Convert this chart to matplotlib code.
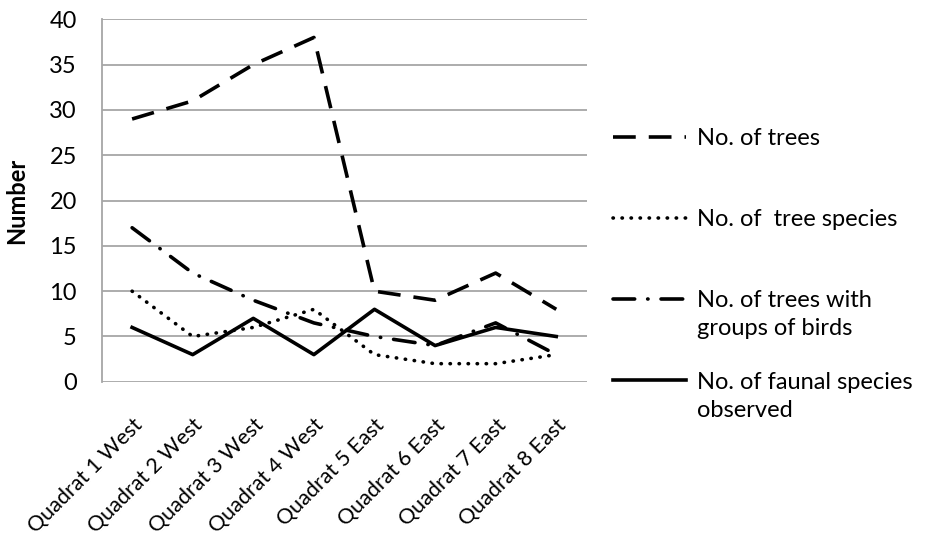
import matplotlib
matplotlib.use("Agg")
import matplotlib.pyplot as plt

# data
quadrats = ["Quadrat 1 West", "Quadrat 2 West", "Quadrat 3 West", "Quadrat 4 West",
            "Quadrat 5 East", "Quadrat 6 East", "Quadrat 7 East", "Quadrat 8 East"]
n_trees = [29, 31, 35, 38, 10, 9, 12, 8]
n_tree_species = [10, 5, 6, 8, 3, 2, 2, 3]
n_trees_birds = [17, 12, 9, 6.5, 5, 4, 6.5, 3]
n_faunal = [6, 3, 7, 3, 8, 4, 6, 5]

# legend labels: first line goes in the legend, second line is added under it
labels = ["No. of trees", "No. of  tree species", "No. of trees with", "No. of faunal species"]
second_lines = [None, None, "groups of birds", "observed"]

plt.rcParams["font.family"] = ["Lato", "DejaVu Sans"]
fs = 17

fig = plt.figure(figsize=(9.34, 5.37), dpi=100)
ax = fig.add_axes([0.109, 0.289, 0.519, 0.675])

x = range(len(quadrats))
lw = 2.6
ax.plot(x, n_trees, color="black", lw=lw, dashes=(6.3, 3.6), label=labels[0])
ax.plot(x, n_tree_species, color="black", lw=lw, dashes=(0.1, 2.4),
        dash_capstyle="round", label=labels[1])
ax.plot(x, n_trees_birds, color="black", lw=lw, dashes=(6.0, 3.6, 0.1, 3.6),
        dash_capstyle="round", label=labels[2])
ax.plot(x, n_faunal, color="black", lw=lw, label=labels[3])

ax.set_xlim(-0.5, len(quadrats) - 0.5)
ax.set_ylim(0, 40)
ax.set_yticks(range(0, 41, 5))
ax.yaxis.grid(True, color="#a6a6a6", lw=1.3)
ax.set_axisbelow(True)
for s in ["top", "right", "bottom"]:
    ax.spines[s].set_visible(False)
ax.spines["left"].set_color("#a6a6a6")
ax.spines["left"].set_linewidth(1.3)
ax.tick_params(length=0, labelsize=fs)
ax.tick_params(axis="y", pad=18)
ax.set_xticks(list(x))
ax.set_xticklabels(quadrats, rotation=45, ha="right", rotation_mode="anchor")
ax.tick_params(axis="x", pad=24, labelsize=15.5)
ax.set_ylabel("Number", fontsize=fs, fontweight="bold", labelpad=15)

leg = fig.legend(loc="upper left", bbox_to_anchor=(613 / 934, 1 - 128 / 537), frameon=False,
                 fontsize=fs, handlelength=3.1, handletextpad=0.45, labelspacing=2.55,
                 borderpad=0, borderaxespad=0)

# second lines of the two long legend labels
fig.canvas.draw()
inv = fig.transFigure.inverted()
for t, extra in zip(leg.get_texts(), second_lines):
    if extra is None:
        continue
    bb = t.get_window_extent()
    x0, y0 = inv.transform((bb.x0, bb.y0))
    fig.text(x0, y0 - 7 / 537, extra, fontsize=fs, ha="left", va="top")

fig.savefig("out.png", dpi=100)
